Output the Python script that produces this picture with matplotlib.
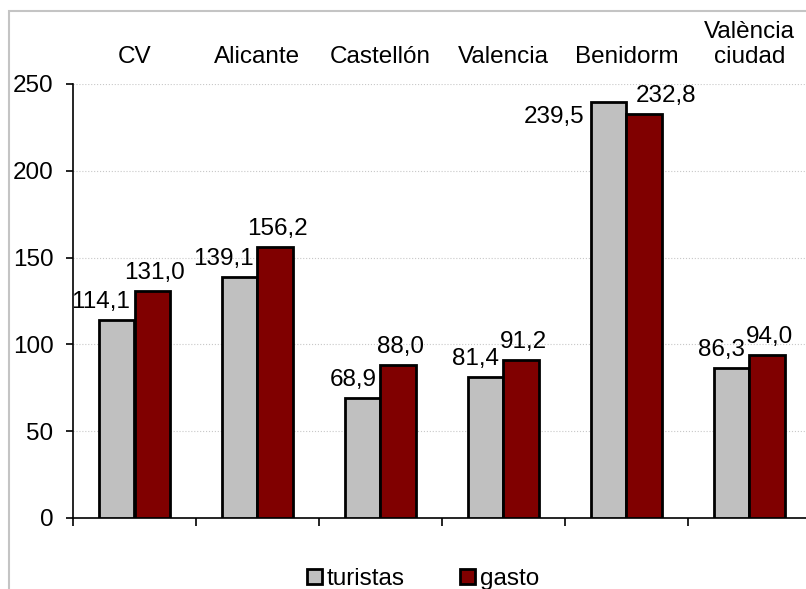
import matplotlib.pyplot as plt
from matplotlib.patches import Rectangle

plt.rcParams['font.family'] = ['Liberation Sans', 'DejaVu Sans']

categories = ['CV', 'Alicante', 'Castellón', 'Valencia', 'Benidorm', 'València\nciudad']
turistas = [114.1, 139.1, 68.9, 81.4, 239.5, 86.3]
gasto = [131.0, 156.2, 88.0, 91.2, 232.8, 94.0]
yticks = [0, 50, 100, 150, 200, 250]

W, H = 806, 589
fig = plt.figure(figsize=(W / 100, H / 100), dpi=100)

# outer chart frame (cut off at right and bottom like the source)
fig.patches.append(Rectangle((9 / W, -0.1), 1.2, 1 - 11 / H + 0.1, transform=fig.transFigure,
                             fill=False, edgecolor='#c4c4c4', linewidth=1.5))

ax = fig.add_axes([73 / W, 1 - 518 / H, (811 - 73) / W, (518 - 84) / H])
fs = 17.5
bw = 0.285
n = len(categories)
x = [i + 0.5 for i in range(n)]

ax.bar([c - bw for c in x], turistas, width=bw, align='edge', color='#c0c0c0',
       edgecolor='black', linewidth=2.0, label='turistas', zorder=3)
ax.bar(x, gasto, width=bw, align='edge', color='#800000',
       edgecolor='black', linewidth=2.0, label='gasto', zorder=3)

for c, t, g in zip(x, turistas, gasto):
    lt = f'{t:.1f}'.replace('.', ',')
    lg = f'{g:.1f}'.replace('.', ',')
    if t > g:
        # gray label would hit the red one, move it beside the bar
        ax.annotate(lt, (c - bw, t), xytext=(-5, -3), textcoords='offset points',
                    ha='right', va='top', fontsize=fs)
        ax.annotate(lg, (c, g), xytext=(7, 5), textcoords='offset points',
                    ha='left', va='bottom', fontsize=fs)
    else:
        ax.annotate(lt, (c, t), xytext=(-3, 5), textcoords='offset points',
                    ha='right', va='bottom', fontsize=fs)
        ax.annotate(lg, (c + bw / 2, g), xytext=(2, 5), textcoords='offset points',
                    ha='center', va='bottom', fontsize=fs)

for c, name in zip(x, categories):
    ax.text(c, 259, name, ha='center', va='bottom', fontsize=fs, multialignment='center')

ax.set_xlim(0, n)
ax.set_ylim(0, 250)
ax.set_yticks(yticks)
ax.set_xticks(range(n + 1))
ax.set_xticklabels([])
ax.tick_params(axis='y', direction='out', length=5, width=1.2, pad=9, labelsize=fs)
ax.tick_params(axis='x', direction='out', length=6, width=1.2)
ax.yaxis.grid(True, linestyle=':', color='#c8c8c8', linewidth=0.8, zorder=0)
ax.set_axisbelow(True)
for s in ['top', 'right']:
    ax.spines[s].set_visible(False)
ax.spines['left'].set_linewidth(1.2)
ax.spines['bottom'].set_linewidth(1.2)

fig.legend(loc='center', bbox_to_anchor=(0.525, 1 - 579 / H), ncol=2, frameon=False,
           fontsize=fs, handlelength=0.6, handleheight=0.6, handletextpad=0.2,
           columnspacing=2.3, borderpad=0)

fig.savefig('out.png', dpi=100)
